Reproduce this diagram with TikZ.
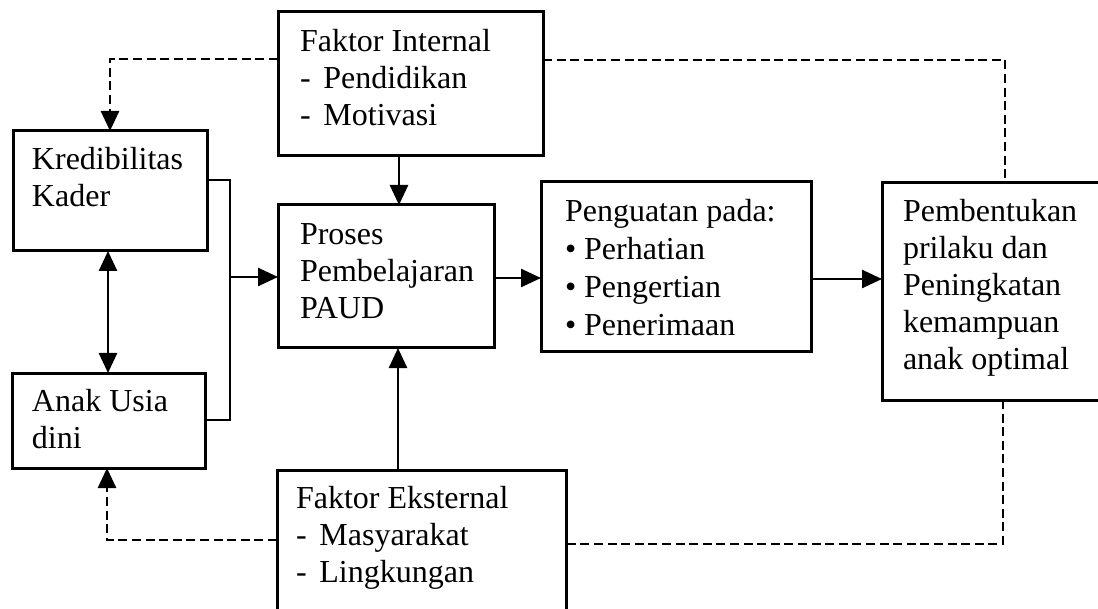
\documentclass[tikz,border=0pt]{standalone}
\usepackage{fontspec}
\setmainfont{Liberation Serif}
\usetikzlibrary{arrows.meta}
\begin{document}
\begin{tikzpicture}[x=0.5pt,y=-0.5pt,
  box/.style={draw, line width=1.5pt, inner sep=0pt, outer sep=0pt, anchor=north west},
  txt/.style={inner sep=0pt, outer sep=0pt, anchor=base west, font=\fontsize{16}{18.5}\selectfont},
  conn/.style={line width=1.3pt},
  tip/.style={-{Triangle[length=10pt,width=9pt]}},
  arr/.style={conn, tip},
  darr/.style={conn, {Triangle[length=10pt,width=9pt]}-{Triangle[length=10pt,width=9pt]}},
  dline/.style={line width=1.3pt, dash pattern=on 4.5pt off 2.3pt}
]
\useasboundingbox (0,0) rectangle (1098,609);
\clip (0,0) rectangle (1098,609);

% boxes
\node[box, minimum width=132.5pt, minimum height=72pt] (ki) at (278,12) {};
\node[box, minimum width=97pt, minimum height=60pt] (kr) at (13,131) {};
\node[box, minimum width=108pt, minimum height=71.5pt] (pr) at (278,205) {};
\node[box, minimum width=135pt, minimum height=85pt] (pg) at (541,182) {};
\node[box, minimum width=111pt, minimum height=108.5pt] (pb) at (882,183) {};
\node[box, minimum width=96.5pt, minimum height=47.5pt] (an) at (12,373) {};
\node[box, minimum width=144.5pt, minimum height=80pt] (ke) at (277,470) {};

% texts
\node[txt] (kit) at (300,52) {\begin{tabular}[t]{@{}l@{}}Faktor Internal\\-\hspace{0.4em}Pendidikan\\-\hspace{0.4em}Motivasi\end{tabular}};
\node[txt] (krt) at (32,170) {\begin{tabular}[t]{@{}l@{}}Kredibilitas\\Kader\end{tabular}};
\node[txt] (prt) at (300,245) {\begin{tabular}[t]{@{}l@{}}Proses\\Pembelajaran\\PAUD\end{tabular}};
\node[txt, font=\fontsize{16}{18.9}\selectfont] (pgt) at (565,222) {\begin{tabular}[t]{@{}l@{}}Penguatan pada:\\\textbullet{} Perhatian\\\textbullet{} Pengertian\\\textbullet{} Penerimaan\end{tabular}};
\node[txt] (pbt) at (903,222) {\begin{tabular}[t]{@{}l@{}}Pembentukan\\prilaku dan\\Peningkatan\\kemampuan\\anak optimal\end{tabular}};
\node[txt] (ant) at (32,411) {\begin{tabular}[t]{@{}l@{}}Anak Usia\\dini\end{tabular}};
\node[txt] (ket) at (296,508) {\begin{tabular}[t]{@{}l@{}}Faktor Eksternal\\-\hspace{0.4em}Masyarakat\\-\hspace{0.4em}Lingkungan\end{tabular}};

% helper coordinates
\coordinate (xa) at (399,0);
\coordinate (xb) at (398,0);
\coordinate (xj) at (230,0);
\coordinate (xk) at (108,0);
\coordinate (yk) at (0,180);
\coordinate (ya) at (0,420);
\coordinate (yp) at (0,277);
\coordinate (yq) at (0,278);
\coordinate (yr) at (0,279);
\coordinate (yt) at (0,59);
\coordinate (yt2) at (0,60);
\coordinate (xtl) at (110,0);
\coordinate (xtr) at (1005,0);
\coordinate (xbr) at (1003,0);
\coordinate (yb) at (0,544);
\coordinate (yb2) at (0,540);
\coordinate (xbl) at (107,0);

% solid connectors
\draw[arr] (ki.south -| xa) -- (pr.north -| xa);
\draw[arr] (ke.north -| xb) -- (pr.south -| xb);
\draw[conn] (kr.east |- yk) -| (xj |- yp);
\draw[conn] (an.east |- ya) -| (xj |- yp);
\draw[arr] (xj |- yp) -- (pr.west |- yp);
\draw[arr] (pr.east |- yq) -- (pg.west |- yq);
\draw[arr] (pg.east |- yr) -- (pb.west |- yr);
\draw[darr] (kr.south -| xk) -- (an.north -| xk);

% dashed connectors
\draw[dline, tip] (ki.west |- yt) -| (kr.north -| xtl);
\draw[dline] (ki.east |- yt2) -| (pb.north -| xtr);
\draw[dline] (pb.south -| xbr) |- (ke.east |- yb);
\draw[dline, tip] (ke.west |- yb2) -| (an.south -| xbl);
\end{tikzpicture}
\end{document}
